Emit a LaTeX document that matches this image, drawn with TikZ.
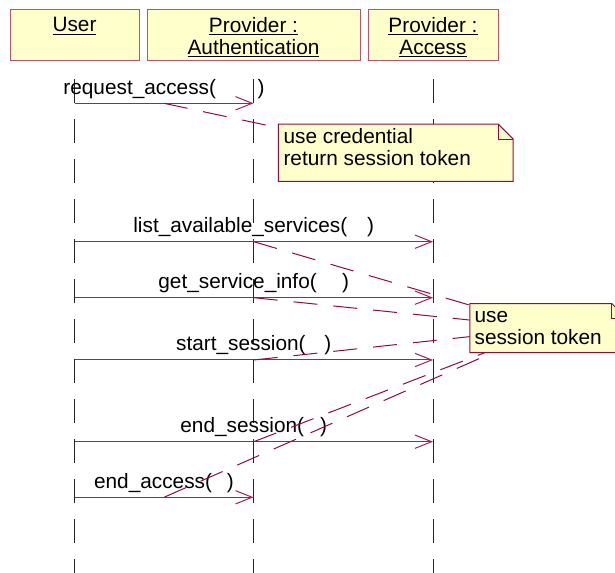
\documentclass[tikz,border=0pt]{standalone}
\usepackage{fontspec}
\setmainfont{Liberation Sans}
\usetikzlibrary{arrows.meta, positioning}
\definecolor{roseline}{RGB}{170, 30, 80}
\definecolor{roseedge}{RGB}{150, 10, 60}
\definecolor{boxedge}{RGB}{195, 80, 105}
\definecolor{notefill}{RGB}{255, 255, 204}

\begin{document}
\begin{tikzpicture}[x=0.75pt, y=-0.75pt,
  font=\fontsize{15.6}{16.4}\selectfont,
  headbox/.style={draw=boxedge, fill=notefill, line width=0.75pt, minimum height=38.25pt, inner sep=0pt},
  headtext/.style={align=center, inner sep=0pt},
  lifeline/.style={line width=0.75pt, black!85, dash pattern=on 18pt off 12pt},
  msg/.style={roseline, line width=0.75pt, -{Straight Barb[length=12.5pt, width=10pt]}},
  msgtext/.style={anchor=base, yshift=6.75pt, inner sep=0pt},
  notebox/.style={inner sep=0pt},
  notetext/.style={align=left, inner sep=0pt, anchor=base west},
  noteline/.style={roseedge, line width=0.75pt, dash pattern=on 18pt off 12pt}]
  \useasboundingbox (0,0) rectangle (615,573);
  \clip (0,0) rectangle (615,573);

  % Object boxes
  \node[headbox, minimum width=96.75pt] (user) at (74.5,35.5) {};
  \node[headbox, minimum width=159.75pt] (auth) at (253.5,35.5) {};
  \node[headbox, minimum width=97.5pt] (acc) at (433,35.5) {};
  \node[headtext, below=5.75pt of user.north] (userlbl) {\underline{User}};
  \node[headtext, below=5.75pt of auth.north] (authlbl) {\underline{Provider :}\\\underline{Authentication}};
  \node[headtext, below=5.75pt of acc.north] (acclbl) {\underline{Provider :}\\\underline{Access}};

  % Lifelines
  \coordinate (bottom) at (0,573);
  \foreach \obj in {user, auth, acc}
    \draw[lifeline] ([yshift=-13.5pt]\obj.south) -- (\obj.south |- bottom);

  % Messages
  \foreach \id/\src/\dst/\y/\txt in {
      req/user/auth/103.3/{request\_access(\hspace{2em})},
      list/user/acc/241.7/{list\_available\_services(\hspace{0.96em})},
      info/user/acc/297.7/{get\_service\_info(\hspace{1.22em})},
      start/user/acc/360/{start\_session(\hspace{0.9em})},
      stop/user/acc/441.7/{end\_session(\hspace{0.77em})},
      quit/user/auth/497.3/{end\_access(\hspace{0.72em})}} {
    \coordinate (\id-s) at (\src |- 0,\y);
    \coordinate (\id-e) at (\dst |- 0,\y);
    \draw[msg] (\id-s) -- (\id-e) coordinate[midway] (\id-m);
    \node[msgtext] (\id-lbl) at (\id-m) {\txt};
  }

  % Notes
  \node[notebox, minimum width=175.75pt, minimum height=42.5pt] (note1) at (395.8,152.7) {};
  \node[notebox, minimum width=117.5pt, minimum height=36.2pt] (note2) at (548.35,328.15) {};
  \draw[noteline] (req-m) -- (note1);
  \foreach \id in {list, info, start, stop, quit}
    \draw[noteline] (\id-m) -- (note2);
  \foreach \n in {note1, note2} {
    \filldraw[fill=notefill, draw=roseedge, line width=0.75pt] (\n.south west) -- (\n.north west)
      -- ([xshift=-11.25pt]\n.north east) -- ([yshift=-11.25pt]\n.north east) -- (\n.south east) -- cycle;
    \draw[roseedge, line width=0.75pt] ([xshift=-11.25pt]\n.north east) |- ([yshift=-11.25pt]\n.north east);
  }
  % base = last line
  \node[notetext] (note1txt) at ([xshift=3.7pt, yshift=-31.3pt]note1.north west) {use credential\\return session token};
  \node[notetext] (note2txt) at ([xshift=3.45pt, yshift=-30.75pt]note2.north west) {use\\session token};
\end{tikzpicture}
\end{document}
